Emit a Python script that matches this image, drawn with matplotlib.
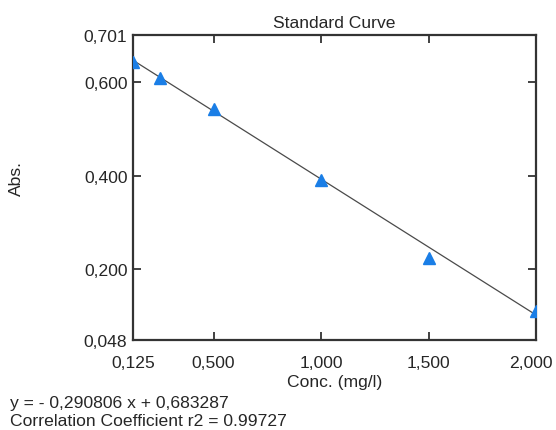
import matplotlib
matplotlib.use("Agg")
import matplotlib.pyplot as plt
from matplotlib.transforms import ScaledTranslation
import numpy as np

# Standard curve data
conc = [0.125, 0.25, 0.5, 1.0, 1.5, 2.0]
absorbance = [0.644, 0.610, 0.542, 0.391, 0.224, 0.110]

# Linear fit coefficients
slope = -0.290806
intercept = 0.683287
r2 = 0.99727

# Axis ranges and tick labels
x_range = [0.125, 2.0]
y_range = [0.048, 0.701]
x_ticks = [0.125, 0.5, 1.0, 1.5, 2.0]
x_tick_labels = ["0,125", "0,500", "1,000", "1,500", "2,000"]
y_ticks = [0.048, 0.2, 0.4, 0.6, 0.701]
y_tick_labels = ["0,048", "0,200", "0,400", "0,600", "0,701"]

plt.rcParams['font.family'] = ['Liberation Sans', 'DejaVu Sans']
fs = 12.6
ink = "#333333"
txt = "#262626"

fig = plt.figure(figsize=(5.56, 4.31), dpi=100)
ax = fig.add_axes([133/556, 1 - 341/431, (536 - 133)/556, (341 - 36)/431])

fit_x = np.array(x_range)
ax.plot(fit_x, slope * fit_x + intercept, color="#4a4a4a", lw=0.9, zorder=2)
ax.plot(conc, absorbance, linestyle="none", marker="^", markersize=8,
        color="#1a7ee6", markeredgecolor="#1a7ee6", zorder=3)

ax.set_xlim(*x_range)
ax.set_ylim(*y_range)
ax.set_xticks(x_ticks)
ax.set_xticklabels(x_tick_labels, fontsize=fs, color=txt)
ax.set_yticks(y_ticks)
ax.set_yticklabels(y_tick_labels, fontsize=fs, color=txt)
ax.tick_params(direction="in", length=6, width=1.3, color=ink,
               top=True, right=True)
ax.tick_params(axis="x", pad=11)
ax.tick_params(axis="y", pad=4)
for s in ax.spines.values():
    s.set_linewidth(1.6)
    s.set_color(ink)

# keep the last x tick label inside the figure edge
last = ax.get_xticklabels()[-1]
last.set_transform(last.get_transform() +
                   ScaledTranslation(-5/100, 0, fig.dpi_scale_trans))

ax.set_title("Standard Curve", fontsize=fs, color=txt, pad=5.5)
ax.set_xlabel("Conc. (mg/l)", fontsize=fs, color=txt, labelpad=2.5)
fig.text(16/556, 1 - 179/431, "Abs.", rotation=90, fontsize=fs,
         color=txt, ha="center", va="center")

fig.text(10/556, 1 - 404/431, "y = - 0,290806 x + 0,683287",
         fontsize=fs, color=txt, ha="left", va="center")
fig.text(10/556, 1 - 422/431, "Correlation Coefficient r2 = %.5f" % r2,
         fontsize=fs, color=txt, ha="left", va="center")

fig.savefig("out.png", dpi=100)
